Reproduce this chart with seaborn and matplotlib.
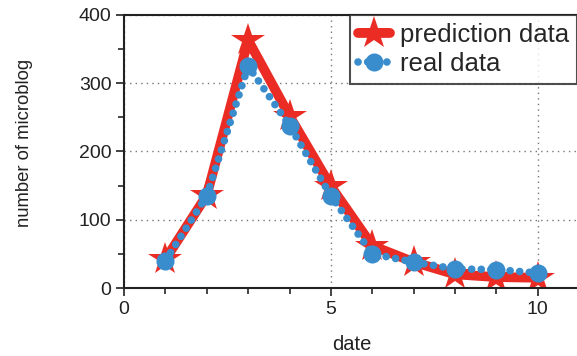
import matplotlib
matplotlib.use("Agg")
import matplotlib.pyplot as plt
import seaborn as sns
import pandas as pd
from matplotlib.ticker import MultipleLocator

dates = [1, 2, 3, 4, 5, 6, 7, 8, 9, 10]
prediction = [42, 136, 363, 252, 149, 62, 38, 20, 16, 15]
real = [40, 135, 325, 238, 135, 50, 38, 28, 27, 22]

sns.set_theme(style="white")
plt.rcParams['font.family'] = ['Liberation Sans', 'DejaVu Sans']

df = pd.DataFrame({"date": dates, "prediction data": prediction, "real data": real})

fig = plt.figure(figsize=(5.77, 3.56), dpi=100)
ax = fig.add_axes([0.215, 0.191, 0.785, 0.767])

sns.lineplot(data=df, x="date", y="prediction data", ax=ax, color="#ea2c25",
             linewidth=7, marker="*", markersize=25, markeredgewidth=0,
             label="prediction data", solid_capstyle="round", solid_joinstyle="round")
sns.lineplot(data=df, x="date", y="real data", ax=ax, color="#3a8dcc",
             linewidth=5.5, linestyle=(0, (0.01, 1.25)), marker="o", markersize=13,
             markeredgewidth=0, label="real data", dash_capstyle="round")

ax.set_xlim(0, 10.95)
ax.set_ylim(0, 400)
ax.xaxis.set_major_locator(MultipleLocator(5))
ax.xaxis.set_minor_locator(MultipleLocator(1))
ax.yaxis.set_major_locator(MultipleLocator(100))
ax.yaxis.set_minor_locator(MultipleLocator(50))
ax.tick_params(axis='both', which='major', direction='out', length=6, width=1.2,
               labelsize=14, colors='#222222', left=True, bottom=True, pad=3)
ax.tick_params(axis='both', which='minor', direction='out', length=4, width=1.2,
               left=True, bottom=True)
ax.grid(True, which='major', linestyle=(0, (1, 3)), color='#777777', linewidth=1)
for s in ['left', 'bottom', 'top']:
    ax.spines[s].set_color('#222222')
    ax.spines[s].set_linewidth(1.5)
ax.spines['right'].set_visible(False)

ax.set_xlabel("date", fontsize=14.5, color='#222222')
ax.set_ylabel("number of microblog", fontsize=13.3, color='#222222')
ax.xaxis.set_label_coords(0.503, -0.172)
ax.yaxis.set_label_coords(-0.2, 0.53)

leg = ax.legend(loc="upper right", fontsize=18.5, frameon=True, fancybox=False,
                borderpad=0.3, handlelength=1.25, handletextpad=0.4, labelspacing=0.2,
                borderaxespad=0.0)
leg.get_frame().set_edgecolor('#222222')
leg.get_frame().set_linewidth(1.5)

fig.savefig("out.png", dpi=100)
